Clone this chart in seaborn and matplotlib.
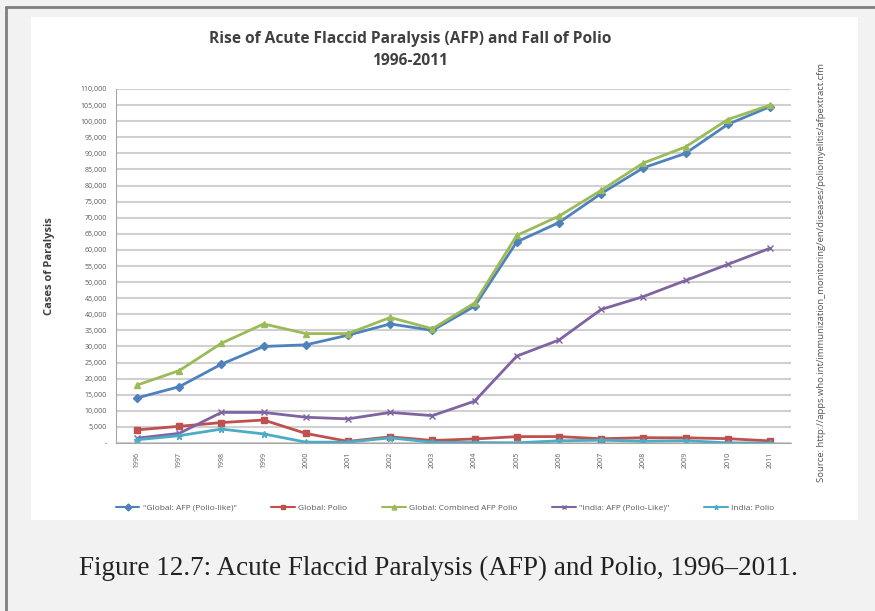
import pandas as pd
import matplotlib
matplotlib.use('Agg')
import matplotlib.pyplot as plt
from matplotlib.patches import Rectangle
from matplotlib.lines import Line2D
from matplotlib.ticker import FuncFormatter, MultipleLocator
import seaborn as sns

# Datos
years = [str(y) for y in range(1996, 2012)]
global_afp = [14000, 17500, 24500, 30000, 30500, 33500, 37000, 35000,
              42500, 62500, 68500, 77500, 85500, 90000, 99000, 104500]
global_polio = [4074, 5186, 6349, 7141, 2971, 498, 1918, 784,
                1255, 1979, 1997, 1315, 1651, 1604, 1352, 650]
global_combined = [18000, 22500, 31000, 37000, 34000, 34000, 39000, 35500,
                   43500, 64500, 70500, 78500, 87000, 92000, 100500, 105000]
india_afp = [1500, 3000, 9500, 9500, 8000, 7500, 9500, 8500,
             13000, 27000, 32000, 41500, 45500, 50500, 55500, 60500]
india_polio = [1005, 2275, 4322, 2817, 265, 268, 1600, 225,
               134, 66, 676, 874, 559, 741, 42, 1]

series_names = ['"Global: AFP (Polio-like)"', 'Global: Polio', 'Global: Combined AFP Polio',
                '"India: AFP (Polio-Like)"', 'India: Polio']
series_values = [global_afp, global_polio, global_combined, india_afp, india_polio]
colores = ['#4F81BD', '#C0504D', '#9BBB59', '#8064A2', '#4BACC6']
marcadores = ['D', 's', '^', 'x', '*']

rows = []
for name, vals in zip(series_names, series_values):
    for i, (yr, v) in enumerate(zip(years, vals)):
        rows.append({'idx': i, 'year': yr, 'serie': name, 'casos': v})
df = pd.DataFrame(rows)

sns.set_style('white')
plt.rcParams['font.family'] = ['Open Sans', 'DejaVu Sans']

fig = plt.figure(figsize=(8.75, 6.11), dpi=100)
fig.patch.set_facecolor('#f2f2f2')

# marco y panel blanco
fig.add_artist(Rectangle((31 / 875, 1 - 520 / 611), (858 - 31) / 875, (520 - 17) / 611,
                         transform=fig.transFigure, facecolor='white', edgecolor='none', zorder=0))
fig.add_artist(Line2D([6 / 875, 6 / 875], [0, 1 - 7 / 611], transform=fig.transFigure,
                      color='#7f7f7f', lw=2))
fig.add_artist(Line2D([6 / 875, 1], [1 - 7 / 611, 1 - 7 / 611], transform=fig.transFigure,
                      color='#7f7f7f', lw=2))

ax = fig.add_axes([116 / 875, 1 - 443 / 611, (791 - 116) / 875, (443 - 89) / 611])
ax.set_facecolor('white')

for name, c, m in zip(series_names, colores, marcadores):
    sub = df[df['serie'] == name]
    sns.lineplot(data=sub, x='idx', y='casos', color=c, marker=m,
                 linewidth=2.0, markersize=4.5, markeredgewidth=1,
                 markeredgecolor=c, ax=ax, legend=False)

ax.set_xlim(-0.5, 15.5)
ax.set_ylim(0, 110000)
ax.yaxis.set_major_locator(MultipleLocator(5000))
ax.yaxis.set_major_formatter(FuncFormatter(lambda v, p: '-' if v == 0 else f'{int(v):,}'))
ax.set_xticks(range(len(years)))
ax.set_xticklabels(years, rotation=90)
ax.tick_params(axis='both', labelsize=5, colors='#595959', length=3, width=0.8)
ax.grid(axis='y', color='#d0d0d0', lw=1.5)
ax.set_axisbelow(True)
for s in ['top', 'right']:
    ax.spines[s].set_visible(False)
ax.spines['left'].set_color('#a6a6a6')
ax.spines['bottom'].set_color('#a6a6a6')
ax.set_xlabel('')
ax.set_ylabel('Cases of Paralysis', fontsize=8, fontweight='bold', color='#404040', labelpad=18)

fig.text(410 / 875, 1 - 50 / 611, 'Rise of Acute Flaccid Paralysis (AFP) and Fall of Polio\n1996-2011',
         ha='center', va='center', fontsize=11.2, fontweight='bold', color='#404040',
         linespacing=1.55)

fig.text(821 / 875, 1 - 272 / 611,
         'Source: http://apps.who.int/immunization_monitoring/en/diseases/poliomyelitis/afpextract.cfm',
         rotation=90, ha='center', va='center', fontsize=6.8, color='#555555')

handles = [Line2D([], [], color=c, marker=m, lw=1.5, markersize=3.5) for c, m in zip(colores, marcadores)]
fig.legend(handles, series_names, loc='center', bbox_to_anchor=(445 / 875, 1 - 508 / 611),
           ncol=5, frameon=False, fontsize=6, columnspacing=4.2, handlelength=2.8,
           handletextpad=0.4, labelcolor='#595959')

fig.text(438 / 875, 1 - 568 / 611, 'Figure 12.7: Acute Flaccid Paralysis (AFP) and Polio, 1996–2011.',
         ha='center', va='center', fontsize=19.5, family=['Liberation Serif', 'DejaVu Serif'],
         color='#222222')

fig.savefig('out.png', dpi=100, facecolor=fig.get_facecolor())
